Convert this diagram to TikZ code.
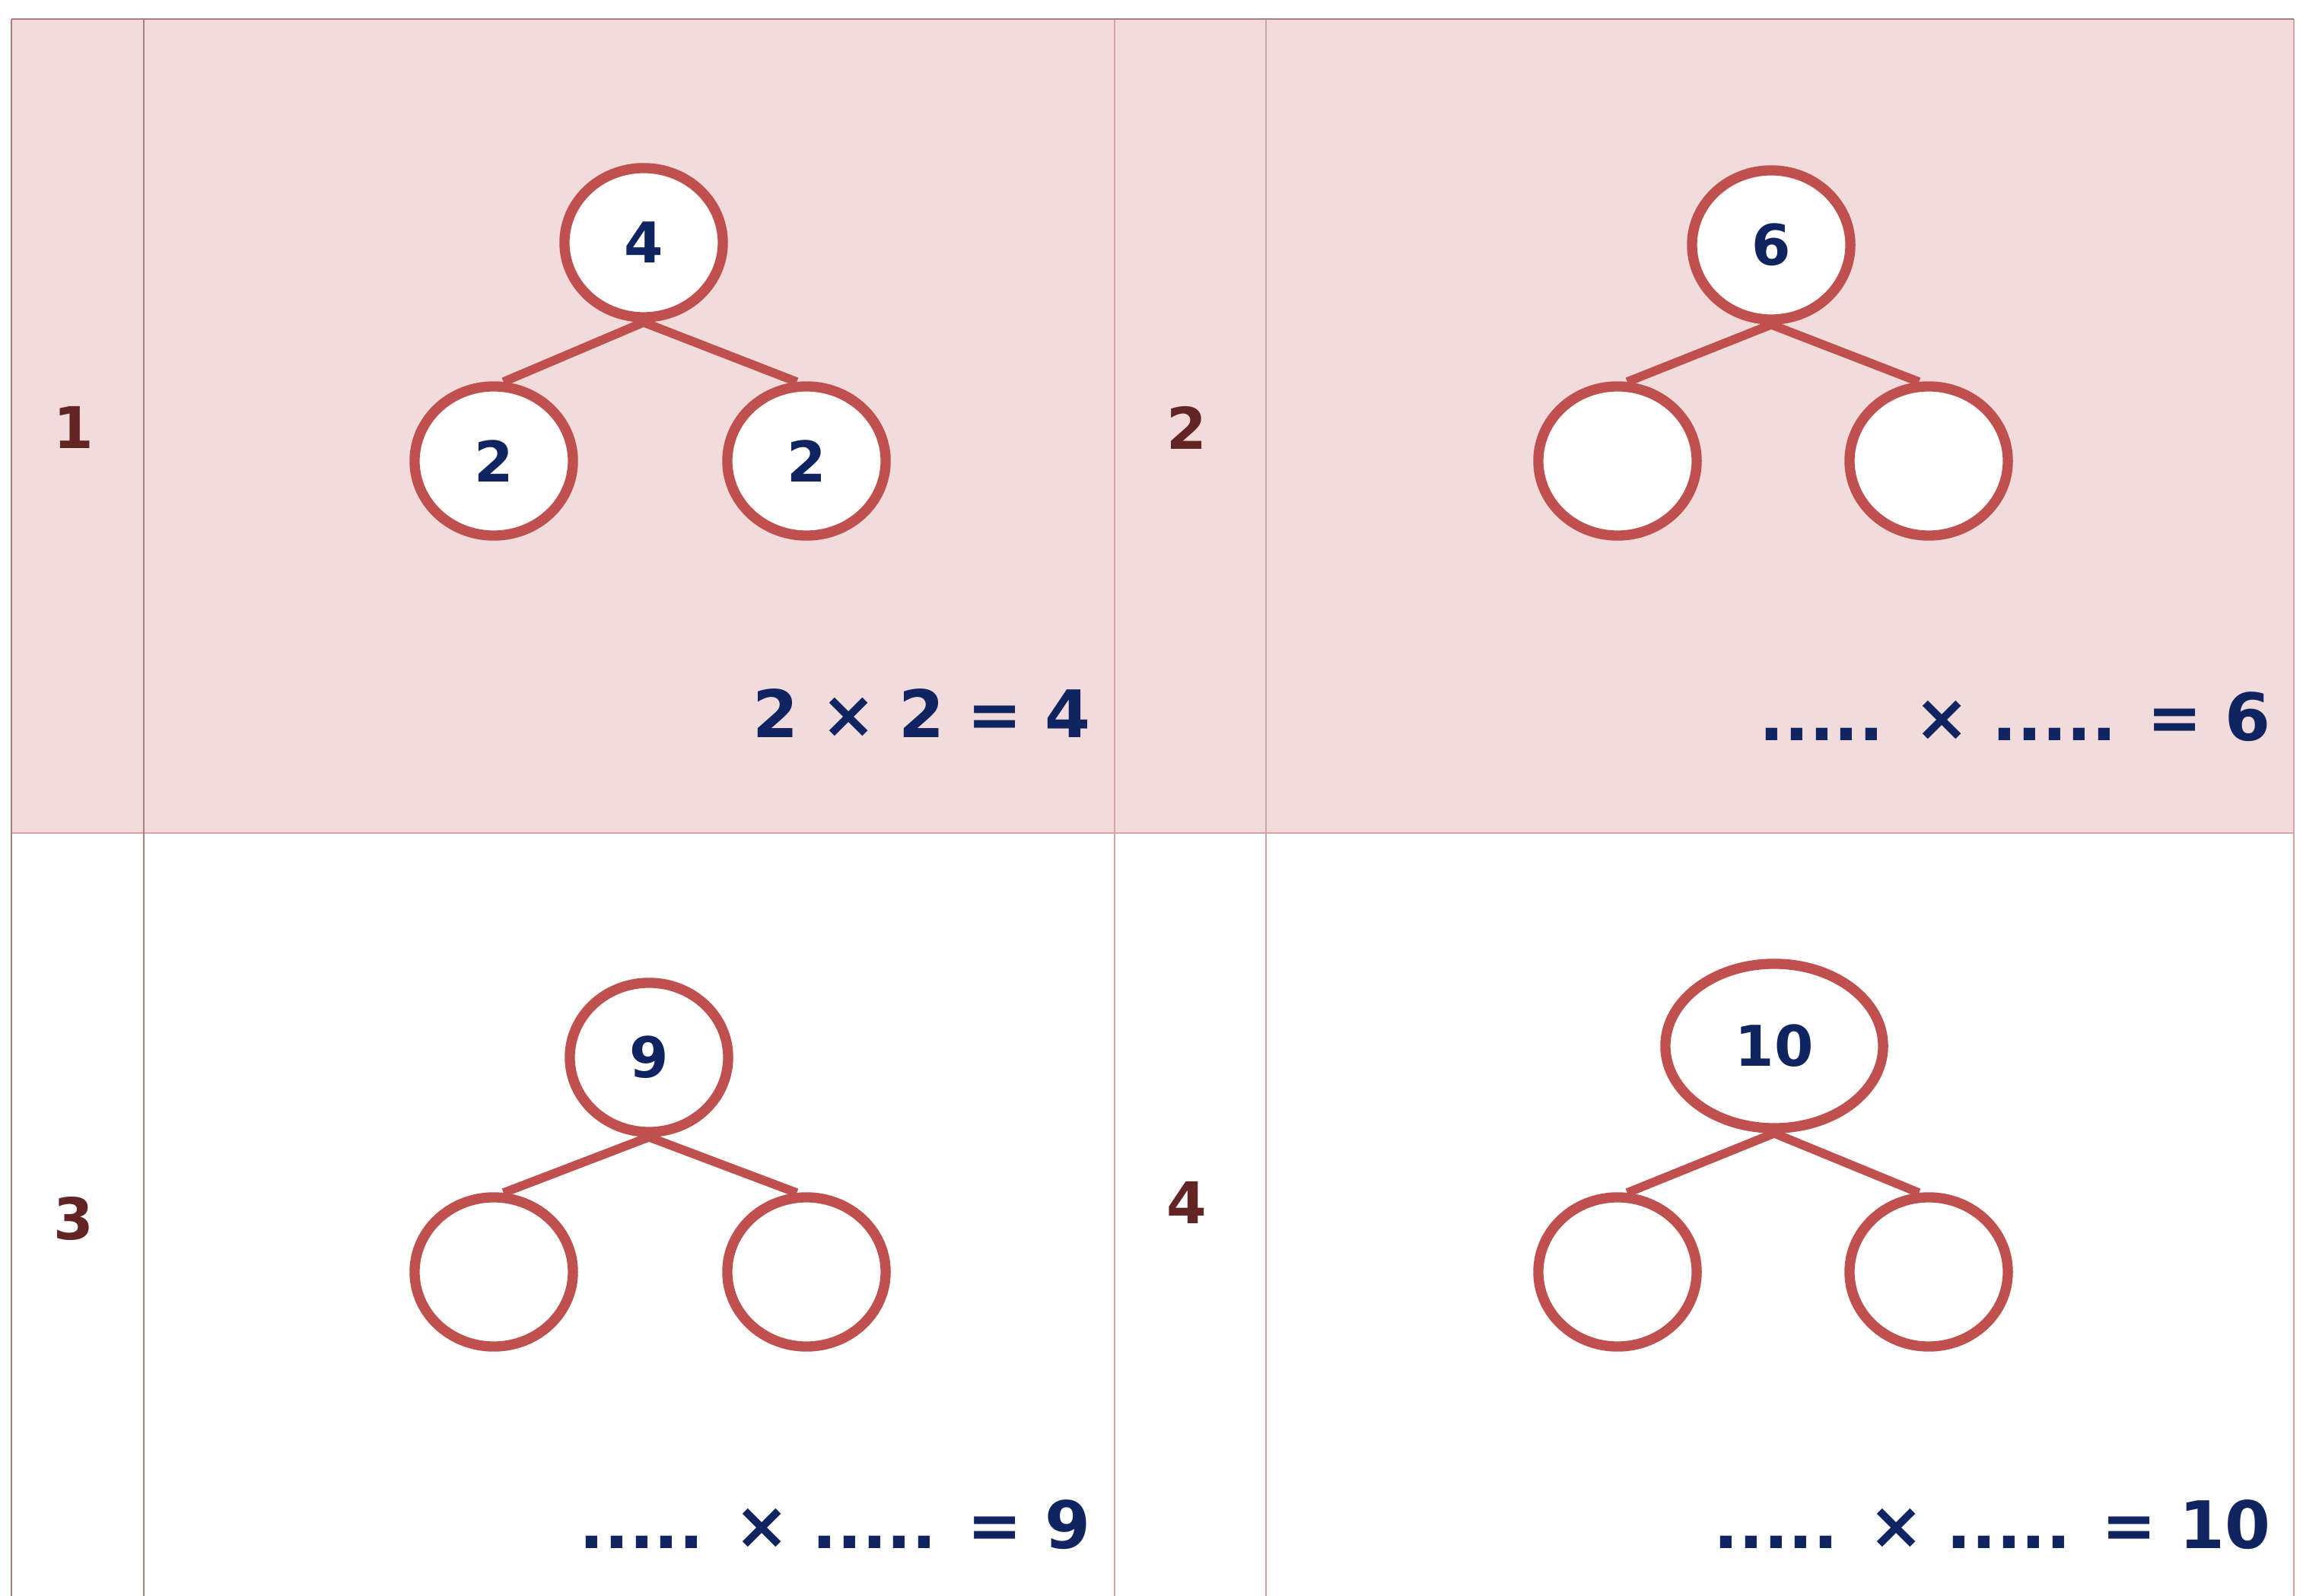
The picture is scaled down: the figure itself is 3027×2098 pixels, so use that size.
\documentclass[tikz,border=0pt]{standalone}
\usepackage{fontspec}
\setmainfont{DejaVu Sans}[Numbers=Lining, BoldFont={DejaVu Sans Bold}]
\usetikzlibrary{shapes.geometric}
\definecolor{cellpink}{HTML}{F2DCDB}
\definecolor{gridline}{HTML}{D9A3A3}
\definecolor{gridtop}{HTML}{A88080}
\definecolor{ringred}{HTML}{C0504D}
\definecolor{navy}{HTML}{0F2461}
\definecolor{maroon}{HTML}{632523}
\tikzset{
  ring/.style={ellipse, draw=ringred, line width=3.8pt, fill=white, inner sep=0pt,
    minimum width=2.08cm, minimum height=1.96cm, text=navy,
    font=\fontsize{21}{25}\selectfont\bfseries},
  widering/.style={ring, minimum width=2.86cm, minimum height=2.16cm},
  link/.style={draw=ringred, line width=3.3pt},
  gridln/.style={draw=gridline, line width=0.7pt},
  gridtopln/.style={draw=gridtop, line width=0.8pt},
  eqtxt/.style={anchor=east, text=navy, inner sep=0pt, font=\fontsize{24.5}{28}\selectfont\bfseries},
  rowlbl/.style={text=maroon, inner sep=0pt, font=\fontsize{21.5}{25}\selectfont\bfseries}
}
\begin{document}
\begin{tikzpicture}[x=0.01cm,y=-0.01cm]
\useasboundingbox (0,0) rectangle (3027,2098);
\fill[white] (0,0) rectangle (3027,2098);
\fill[cellpink] (15,25) rectangle (3015,1095);
% grid
\draw[gridln] (15,1095) -- (3015,1095);
\draw[gridln] (1465,25) -- (1465,2098);
\draw[gridln] (1664,25) -- (1664,2098);
\draw[gridln] (3015,25) -- (3015,2098);
\draw[gridtopln] (189,25) -- (189,2098);
\draw[gridtopln] (15,25) -- (15,2098);
\draw[gridtopln] (15,25) -- (3015,25);
% row labels
\node[rowlbl] (r1) at (97,562) {1};
\node[rowlbl] (r2) at (1560,562) {2};
\node[rowlbl] (r3) at (97,1602) {3};
\node[rowlbl] (r4) at (1560,1581) {4};
% tree 1
\node[ring] (a) at (846,319) {4};
\node[ring] (al) at (649,606) {2};
\node[ring] (ar) at (1060,606) {2};
\draw[link] (a.south) -- (al.83);
\draw[link] (a.south) -- (ar.97);
% tree 2
\node[ring] (b) at (2328,322) {6};
\node[ring] (bl) at (2126,606) {};
\node[ring] (br) at (2535,606) {};
\draw[link] (b.south) -- (bl.83);
\draw[link] (b.south) -- (br.97);
% tree 3
\node[ring] (c) at (853,1390) {9};
\node[ring] (cl) at (649,1672) {};
\node[ring] (cr) at (1060,1672) {};
\draw[link] (c.south) -- (cl.83);
\draw[link] (c.south) -- (cr.97);
% tree 4
\node[widering] (d) at (2332,1375) {10};
\node[ring] (dl) at (2126,1672) {};
\node[ring] (dr) at (2535,1672) {};
\draw[link] (d.south) -- (dl.83);
\draw[link] (d.south) -- (dr.97);
% equations
\node[eqtxt] (e1) at (1434,938) {2 × 2 = 4};
\node[eqtxt] (e2) at (2985,942) {..... × ..... = 6};
\node[eqtxt] (e3) at (1434,2004) {..... × ..... = 9};
\node[eqtxt] (e4) at (2985,2004) {..... × ..... = 10};
\end{tikzpicture}
\end{document}
